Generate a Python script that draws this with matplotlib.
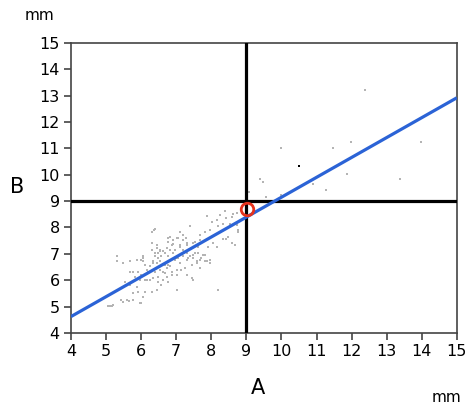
import matplotlib
matplotlib.use("Agg")
import matplotlib.pyplot as plt

# measurements (mm): A on x, B on y
a_vals = [7.88, 8.39, 8.26, 8.42, 8.63, 8.72, 8.60, 8.15, 8.01, 8.20, 8.34, 8.53, 8.72, 8.77, 8.77,
          7.96, 7.82, 7.68, 7.39, 7.11, 7.20, 7.28, 7.01, 6.82, 6.77, 6.90, 7.31, 7.49, 7.63, 7.77,
          7.91, 8.06, 8.15, 8.34, 8.43, 8.48, 8.58, 8.67, 6.30, 6.39, 6.30, 6.44, 6.54, 6.39, 6.49,
          6.63, 6.73, 6.82, 6.96, 7.11, 7.20, 7.30, 7.39, 7.49, 7.58, 7.68, 7.87, 7.96, 7.77, 7.53,
          7.11, 7.06, 6.96, 6.77, 6.73, 6.63, 6.54, 6.44, 6.35, 6.25, 6.16, 6.06, 6.01, 5.87, 5.68,
          5.49, 5.30, 5.30, 6.06, 5.92, 5.78, 5.68, 5.82, 5.97, 6.11, 6.25, 6.35, 6.49, 6.63, 6.73,
          6.87, 7.01, 7.15, 7.25, 7.30, 6.77, 6.58, 6.44, 6.30, 6.11, 5.92, 5.78, 5.54, 5.68, 5.87,
          6.06, 5.97, 5.78, 5.59, 5.44, 5.21, 5.11, 7.01, 7.49, 8.20,
          6.37, 6.30, 7.39, 6.77, 6.92, 7.06, 7.20, 6.87, 7.11, 7.30, 7.53, 7.68, 7.87, 6.30, 6.44,
          6.54, 6.68, 6.39, 6.49, 6.58, 6.77, 6.92, 7.01, 7.20, 7.34, 7.49, 7.63, 7.72, 7.82, 6.06,
          6.11, 6.35, 6.54, 6.68, 6.82, 7.11, 7.25, 7.44, 7.58, 7.68, 7.82, 7.96, 6.20, 6.39, 6.54,
          6.68, 6.87, 7.01, 7.30, 7.44, 6.35, 6.49, 6.63, 6.16, 6.01,
          5.06, 5.16, 5.48, 5.65, 6.01,
          12.38, 9.98, 11.48, 11.98, 13.97, 9.38, 9.47, 11.88, 10.89, 11.28, 13.38, 9.57, 9.98, 9.08]
b_vals = [8.45, 8.64, 8.48, 8.35, 8.51, 8.54, 8.41, 8.29, 8.20, 8.06, 8.13, 8.13, 8.10, 7.91, 7.81,
          7.91, 7.84, 7.72, 8.06, 7.84, 7.72, 7.59, 7.59, 7.63, 7.46, 7.38, 7.34, 7.40, 7.27, 7.46,
          7.27, 7.40, 7.27, 7.55, 7.55, 7.65, 7.40, 7.34, 7.84, 7.93, 7.40, 7.34, 7.15, 7.02, 7.02,
          7.09, 7.21, 7.15, 7.15, 7.27, 7.15, 7.02, 6.90, 6.83, 6.71, 6.77, 6.71, 6.64, 6.96, 7.02,
          6.96, 6.83, 6.77, 6.58, 6.45, 6.33, 6.39, 6.64, 6.71, 6.52, 6.39, 6.71, 6.77, 6.77, 6.71,
          6.64, 6.71, 6.90, 6.90, 6.33, 6.33, 6.33, 6.14, 6.01, 6.01, 6.01, 6.07, 6.14, 6.01, 6.14,
          6.20, 6.39, 6.39, 6.45, 6.77, 5.95, 5.82, 5.63, 5.57, 5.57, 5.57, 5.51, 5.95, 5.82, 5.76,
          5.38, 5.13, 5.25, 5.25, 5.25, 5.06, 5.02, 5.63, 6.01, 5.63,
          7.91, 7.82, 8.06, 7.59, 7.53, 7.59, 7.53, 7.34, 7.34, 7.40, 7.46, 7.53, 7.57, 7.15, 7.21,
          7.09, 7.02, 6.90, 6.83, 6.90, 6.90, 7.02, 6.83, 6.90, 6.83, 6.96, 7.02, 6.83, 6.96, 6.83,
          6.58, 6.64, 6.71, 6.58, 6.52, 6.64, 6.45, 6.58, 6.64, 6.45, 6.71, 6.77, 6.33, 6.33, 6.39,
          6.26, 6.33, 6.20, 6.20, 6.07, 6.07, 5.95, 6.01, 6.01, 6.20,
          5.04, 5.04, 5.18, 5.21, 5.14,
          13.22, 11.03, 11.03, 11.23, 11.23, 9.84, 9.74, 10.03, 9.64, 9.44, 9.84, 9.15, 9.24, 9.34]

# highlighted subject and the fitted line ends
dark_a, dark_b = [10.49], [10.32]
mark_a, mark_b = [9.03], [8.70]
fit_a = [4, 15]
fit_b = [4.62, 12.92]
cut_a, cut_b = 9, 9

ticks = list(range(4, 16))

fig = plt.figure(figsize=(4.7, 4.09), dpi=100)
ax = fig.add_axes([0.151, 0.186, 0.821, 0.709])

ax.scatter(a_vals, b_vals, s=4, marker='s', color='#b4b4b4', linewidths=0, zorder=2)
ax.scatter(dark_a, dark_b, s=2.5, marker='s', color='black', linewidths=0, zorder=3)
ax.axvline(cut_a, color='black', lw=2.3, zorder=3)
ax.axhline(cut_b, color='black', lw=2.3, zorder=3)
ax.plot(fit_a, fit_b, color='#2b63d6', lw=2.3, zorder=4, solid_capstyle='butt')
ax.plot(mark_a, mark_b, 'o', ms=9, mfc='none', mec='#e5321c', mew=2.0, zorder=5)

ax.set_xlim(4, 15)
ax.set_ylim(4, 15)
ax.set_xticks(ticks)
ax.set_yticks(ticks)
ax.tick_params(direction='out', length=5, width=1.2, color='#444444',
               labelsize=11.5, pad=3)
for sp in ax.spines.values():
    sp.set_color('#444444')
    sp.set_linewidth(1.2)

fig.text(0.085, 0.963, 'mm', fontsize=11, ha='center', va='center')
fig.text(0.036, 0.543, 'B', fontsize=15, ha='center', va='center')
fig.text(0.549, 0.051, 'A', fontsize=15, ha='center', va='center')
fig.text(0.951, 0.029, 'mm', fontsize=11, ha='center', va='center')

fig.savefig('out.png', dpi=100)
